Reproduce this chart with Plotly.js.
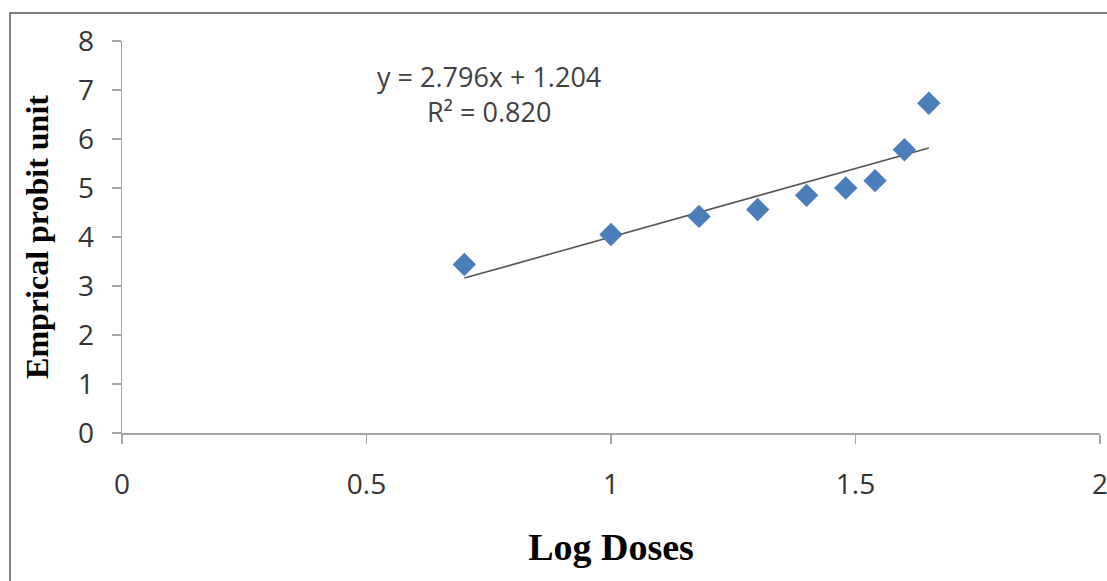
<!DOCTYPE html>
<html>
<head>
<meta charset="utf-8">
<script src="https://cdn.plot.ly/plotly-3.0.1.min.js"></script>
<style>
html,body{margin:0;padding:0;background:#fff;}
#chart{width:1107px;height:581px;}
</style>
</head>
<body>
<div id="chart"></div>
<script>
// Data
const logDoses = [0.70, 1.00, 1.18, 1.30, 1.40, 1.48, 1.54, 1.60, 1.65];
const probits  = [3.44, 4.05, 4.42, 4.56, 4.85, 5.00, 5.15, 5.78, 6.73];
const slope = 2.796;
const intercept = 1.204;
const rSquared = 0.820;
const fitRange = [0.70, 1.65];
const xTicks = [0, 0.5, 1, 1.5, 2];
const xTickText = ['0', '0.5', '1', '1.5', '2'];
const yTicks = [0, 1, 2, 3, 4, 5, 6, 7, 8];

const fitY = fitRange.map(x => slope * x + intercept);

const tickFont = {family: 'Open Sans, sans-serif', size: 28, color: '#333333'};
const serif = 'Liberation Serif, Times New Roman, serif';

const traces = [
  {
    x: fitRange, y: fitY, type: 'scatter', mode: 'lines',
    line: {color: '#555555', width: 1.6}, hoverinfo: 'skip', showlegend: false
  },
  {
    x: logDoses, y: probits, type: 'scatter', mode: 'markers',
    marker: {symbol: 'diamond', size: 18, color: '#4A7EBB'}, showlegend: false
  }
];

const L = 122, R = 7, T = 41, B = 148, W = 1107, H = 581;
const pw = W - L - R, ph = H - T - B;
const px = p => (p - L) / pw;
const py = p => (H - B - p) / ph;

const layout = {
  width: W, height: H,
  margin: {l: L, r: R, t: T, b: B, pad: 0, autoexpand: false},
  paper_bgcolor: '#ffffff', plot_bgcolor: '#ffffff',
  showlegend: false,
  xaxis: {
    range: [0, 2], tickvals: xTicks, ticktext: xTickText,
    showgrid: false, zeroline: false, showline: true,
    linecolor: '#a6a6a6', linewidth: 1.5,
    ticks: 'outside', ticklen: 9, tickwidth: 1.5, tickcolor: '#a6a6a6',
    ticklabelstandoff: 17, ticklabeloverflow: 'allow',
    tickfont: tickFont,
    title: {text: 'Log Doses', font: {family: serif, size: 38, color: '#000000', weight: 'bold'}, standoff: 32}
  },
  yaxis: {
    range: [0, 8], tickvals: yTicks,
    showgrid: false, zeroline: false, showline: true,
    linecolor: '#a6a6a6', linewidth: 1.5,
    ticks: 'outside', ticklen: 9, tickwidth: 1.5, tickcolor: '#a6a6a6',
    ticklabelstandoff: 12,
    tickfont: tickFont,
    title: {text: 'Emprical probit unit', font: {family: serif, size: 32, color: '#000000', weight: 'bold'}, standoff: 19}
  },
  annotations: [
    {
      xref: 'x', yref: 'y', x: 0.75, y: 6.91,
      text: 'y = ' + slope.toFixed(3) + 'x + ' + intercept.toFixed(3) + '<br>R² = ' + rSquared.toFixed(3),
      showarrow: false, align: 'center',
      font: {family: 'Open Sans, sans-serif', size: 27, color: '#404040'}
    }
  ],
  shapes: [
    {
      type: 'rect', xref: 'paper', yref: 'paper',
      x0: px(10), x1: px(1112), y0: py(595), y1: py(13),
      line: {color: '#555555', width: 1.5}, fillcolor: 'rgba(0,0,0,0)', layer: 'below'
    }
  ]
};

Plotly.newPlot('chart', traces, layout, {displayModeBar: false, staticPlot: true});
</script>
</body>
</html>
